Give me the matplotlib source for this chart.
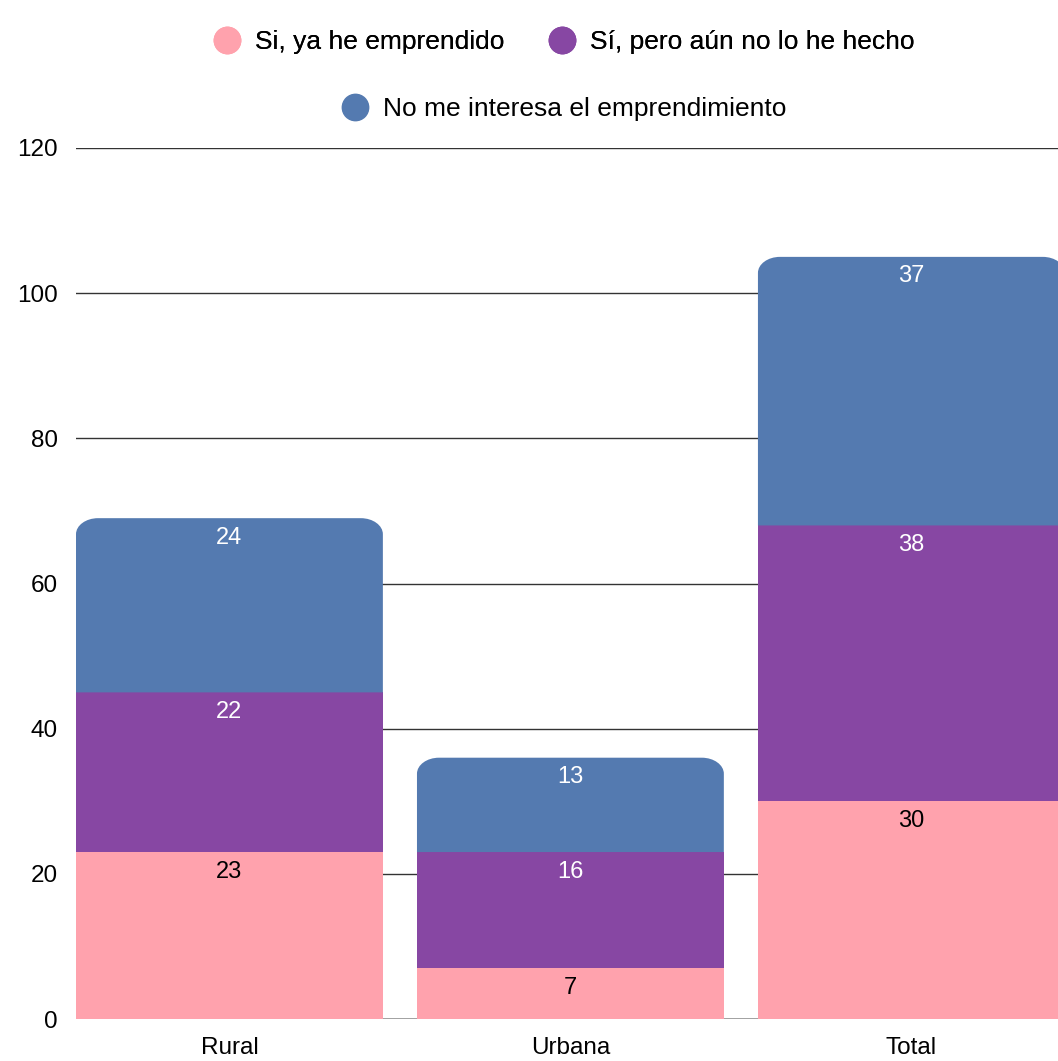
import matplotlib
matplotlib.use("Agg")
import matplotlib.pyplot as plt
from matplotlib.path import Path
from matplotlib.patches import PathPatch
from matplotlib.lines import Line2D
import numpy as np

plt.rcParams['font.family'] = ['Liberation Sans', 'DejaVu Sans']

categories = ["Rural", "Urbana", "Total"]
series_names = ["Si, ya he emprendido", "Sí, pero aún no lo he hecho", "No me interesa el emprendimiento"]
ya_emprendido = [23, 7, 30]
aun_no = [22, 16, 38]
no_interesa = [24, 13, 37]
colors = ["#FFA2AD", "#8747A3", "#547AB0"]
label_colors = ["black", "white", "white"]
yticks = [0, 20, 40, 60, 80, 100, 120]

fig = plt.figure(figsize=(10.58, 10.61), dpi=100)
ax = fig.add_axes([76/1058, 42/1061, 1 - 76/1058, (1019-148)/1061])

x = np.arange(len(categories))
width = 0.9
bottom = np.zeros(len(categories))
all_series = [ya_emprendido, aun_no, no_interesa]
containers = []
for i, vals in enumerate(all_series):
    bars = ax.bar(x, vals, width, bottom=bottom, color=colors[i], zorder=2, linewidth=0)
    containers.append((bars, vals, bottom.copy()))
    bottom = bottom + np.array(vals)

ax.set_xlim(-0.45, 2.43)
ax.set_ylim(0, 120)
ax.set_yticks(yticks)
ax.set_yticklabels([str(t) for t in yticks])
ax.set_xticks(x)
ax.set_xticklabels(categories)
ax.tick_params(axis='both', length=0, labelsize=17.5)
ax.tick_params(axis='x', pad=13)
ax.tick_params(axis='y', pad=13)
for s in ax.spines.values():
    s.set_visible(False)
ax.yaxis.grid(True, color="#333333", linewidth=1, zorder=0)
ax.set_axisbelow(True)
ax.axhline(0, color="#999999", linewidth=1.2, zorder=1)

fig.canvas.draw()
# Round the top corners of the top segments
top_bars = containers[-1][0]
rx_px, ry_px = 22, 16
inv = ax.transData.inverted()
for rect in top_bars:
    x0, y0 = rect.get_x(), rect.get_y()
    w, h = rect.get_width(), rect.get_height()
    p0 = ax.transData.transform((0, 0))
    p1 = inv.transform(p0 + np.array([rx_px, ry_px]))
    rx, ry = p1[0] - 0, p1[1] - 0
    x1, y1 = x0 + w, y0 + h
    k = 0.55
    verts = [(x0, y0), (x1, y0), (x1, y1 - ry),
             (x1, y1 - ry * (1 - k)), (x1 - rx * (1 - k), y1), (x1 - rx, y1),
             (x0 + rx, y1),
             (x0 + rx * (1 - k), y1), (x0, y1 - ry * (1 - k)), (x0, y1 - ry),
             (x0, y0)]
    codes = [Path.MOVETO, Path.LINETO, Path.LINETO,
             Path.CURVE4, Path.CURVE4, Path.CURVE4,
             Path.LINETO,
             Path.CURVE4, Path.CURVE4, Path.CURVE4,
             Path.CLOSEPOLY]
    patch = PathPatch(Path(verts, codes), facecolor=rect.get_facecolor(), edgecolor='none', zorder=2)
    rect.set_visible(False)
    ax.add_patch(patch)

for i, (bars, vals, bots) in enumerate(containers):
    for xi, v, b in zip(x, vals, bots):
        ax.annotate(str(v), xy=(xi, b + v), xytext=(0, -14), textcoords='offset points',
                    ha='center', va='center', fontsize=17, color=label_colors[i], zorder=3)

def handle(c):
    return Line2D([], [], marker='o', linestyle='none', markersize=19,
                  markerfacecolor=c, markeredgecolor=c)

leg1 = fig.legend([handle(colors[0]), handle(colors[1])], series_names[:2], ncol=2,
                  loc='center', bbox_to_anchor=(564/1058, 1 - 42/1061), frameon=False,
                  fontsize=19, handletextpad=0.55, columnspacing=1.7, handlelength=1.0)
leg2 = fig.legend([handle(colors[2])], series_names[2:], ncol=1,
                  loc='center', bbox_to_anchor=(564/1058, 1 - 109/1061), frameon=False,
                  fontsize=19, handletextpad=0.55, handlelength=1.0)
fig.add_artist(leg1)

fig.savefig("out.png", dpi=100)
